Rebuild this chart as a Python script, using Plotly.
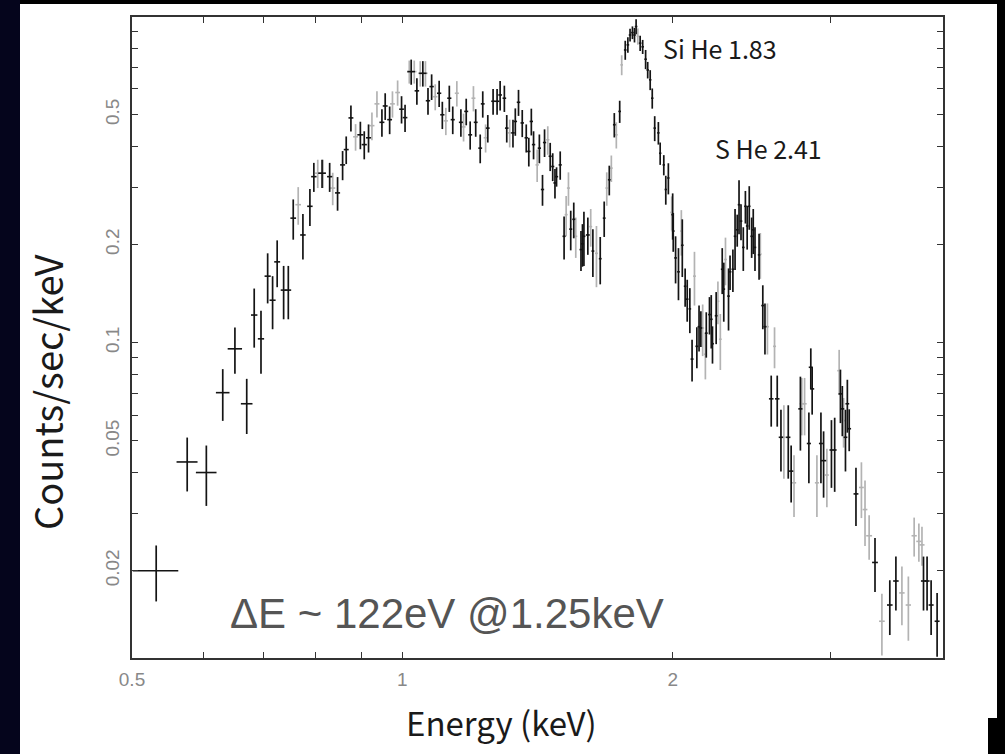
import math
import plotly.graph_objects as go

# ---------------- data ----------------
# black data set: energy (keV), energy half-width, counts/sec/keV, 1-sigma error
bk_energy = [0.532, 0.576, 0.605, 0.631, 0.651, 0.671, 0.684, 0.696, 0.708, 0.717,
             0.7255, 0.7376, 0.7465, 0.756, 0.775, 0.789, 0.797, 0.814, 0.830, 0.847,
             0.858, 0.866, 0.8765, 0.898, 0.907, 0.917, 0.949, 0.957, 0.968, 0.998,
             1.007, 1.023, 1.038, 1.054, 1.068, 1.078, 1.099, 1.108, 1.128, 1.138,
             1.162, 1.178, 1.190, 1.207, 1.221, 1.229, 1.245, 1.262, 1.275, 1.285,
             1.299, 1.307, 1.328, 1.336, 1.347, 1.360, 1.374, 1.383, 1.392, 1.400,
             1.421, 1.4325, 1.440, 1.461, 1.4705, 1.479, 1.485, 1.499, 1.514, 1.540,
             1.552, 1.581, 1.587, 1.593, 1.609, 1.630, 1.661, 1.678, 1.700, 1.722,
             1.746, 1.771, 1.783, 1.793, 1.804, 1.8135, 1.821, 1.840, 1.852, 1.866,
             1.876, 1.888, 1.898, 1.910, 1.928, 1.937, 1.955, 1.965, 1.978, 2.000,
             2.003, 2.015, 2.030, 2.050, 2.065, 2.076, 2.090, 2.102, 2.128, 2.140,
             2.150, 2.180, 2.198, 2.208, 2.215, 2.236, 2.271, 2.280, 2.308, 2.317,
             2.334, 2.347, 2.360, 2.371, 2.383, 2.397, 2.410, 2.421, 2.434, 2.449,
             2.459, 2.470, 2.496, 2.520, 2.534, 2.575, 2.615, 2.640, 2.690, 2.710,
             2.775, 2.836, 2.850, 2.860, 2.925, 2.945, 3.005, 3.030, 3.075, 3.090,
             3.115, 3.130, 3.145, 3.200, 3.360, 3.490, 3.545, 3.805, 3.840, 3.880,
             3.940]
bk_ewidth = [0.031, 0.0155, 0.016, 0.011, 0.012, 0.010, 0.0056, 0.0056, 0.0056, 0.0056,
             0.0055, 0.0055, 0.0055, 0.0055, 0.0055, 0.0055, 0.0055, 0.008, 0.0055, 0.0055,
             0.0055, 0.0055, 0.0055, 0.007, 0.006, 0.006, 0.006, 0.006, 0.006, 0.006,
             0.006, 0.010, 0.006, 0.010, 0.006, 0.006, 0.006, 0.006, 0.006, 0.006,
             0.006, 0.006, 0.006, 0.006, 0.006, 0.006, 0.006, 0.006, 0.008, 0.006,
             0.006, 0.006, 0.006, 0.006, 0.006, 0.006, 0.006, 0.006, 0.006, 0.006,
             0.006, 0.006, 0.006, 0.006, 0.006, 0.006, 0.006, 0.006, 0.006, 0.006,
             0.006, 0.006, 0.006, 0.006, 0.008, 0.006, 0.006, 0.006, 0.006, 0.006,
             0.006, 0.006, 0.006, 0.006, 0.006, 0.006, 0.006, 0.006, 0.006, 0.006,
             0.006, 0.006, 0.006, 0.006, 0.006, 0.006, 0.006, 0.006, 0.006, 0.007,
             0.007, 0.007, 0.007, 0.007, 0.007, 0.007, 0.007, 0.008, 0.008, 0.008,
             0.008, 0.008, 0.008, 0.008, 0.008, 0.008, 0.008, 0.008, 0.008, 0.008,
             0.008, 0.008, 0.008, 0.008, 0.008, 0.008, 0.008, 0.008, 0.008, 0.008,
             0.008, 0.008, 0.008, 0.010, 0.010, 0.015, 0.015, 0.015, 0.015, 0.015,
             0.015, 0.015, 0.015, 0.015, 0.015, 0.020, 0.015, 0.015, 0.015, 0.015,
             0.015, 0.015, 0.015, 0.020, 0.025, 0.025, 0.025, 0.025, 0.025, 0.025,
             0.025]
bk_counts = [0.0200, 0.0431, 0.0400, 0.0703, 0.0958, 0.0650, 0.1216, 0.1028, 0.160, 0.135,
             0.177, 0.145, 0.145, 0.241, 0.214, 0.262, 0.323, 0.331, 0.323, 0.288,
             0.351, 0.391, 0.489, 0.434, 0.405, 0.425, 0.474, 0.532, 0.483, 0.520,
             0.490, 0.678, 0.592, 0.670, 0.552, 0.610, 0.582, 0.500, 0.562, 0.483,
             0.474, 0.512, 0.434, 0.474, 0.395, 0.540, 0.455, 0.550, 0.550, 0.575,
             0.562, 0.455, 0.440, 0.477, 0.546, 0.472, 0.425, 0.386, 0.477, 0.405,
             0.395, 0.295, 0.411, 0.373, 0.347, 0.309, 0.323, 0.351, 0.212, 0.223,
             0.239, 0.193, 0.201, 0.212, 0.214, 0.191, 0.181, 0.241, 0.316, 0.466,
             0.512, 0.790, 0.819, 0.878, 0.893, 0.878, 0.932, 0.829, 0.808, 0.740,
             0.686, 0.640, 0.562, 0.455, 0.440, 0.381, 0.351, 0.295, 0.320, 0.247,
             0.220, 0.182, 0.165, 0.199, 0.149, 0.136, 0.127, 0.0891, 0.0975, 0.112,
             0.111, 0.107, 0.122, 0.118, 0.0993, 0.121, 0.168, 0.146, 0.139, 0.165,
             0.168, 0.212, 0.222, 0.265, 0.236, 0.196, 0.262, 0.228, 0.262, 0.212,
             0.222, 0.196, 0.186, 0.130, 0.112, 0.0673, 0.0673, 0.0513, 0.0513, 0.0404,
             0.0627, 0.0491, 0.0841, 0.0722, 0.0491, 0.0435, 0.0469, 0.0469, 0.0697, 0.0627,
             0.0513, 0.0650, 0.0545, 0.0344, 0.0212, 0.0157, 0.0186, 0.0186, 0.0186, 0.0157,
             0.0140]
bk_error = [0.0039, 0.0081, 0.0084, 0.0127, 0.0155, 0.0125, 0.025, 0.0225, 0.028, 0.025,
            0.029, 0.027, 0.027, 0.034, 0.034, 0.034, 0.033, 0.033, 0.033, 0.034,
            0.036, 0.038, 0.045, 0.042, 0.040, 0.042, 0.046, 0.050, 0.047, 0.050,
            0.047, 0.060, 0.055, 0.060, 0.052, 0.055, 0.054, 0.048, 0.052, 0.047,
            0.046, 0.048, 0.043, 0.046, 0.040, 0.050, 0.044, 0.050, 0.050, 0.060,
            0.052, 0.044, 0.043, 0.046, 0.050, 0.045, 0.042, 0.039, 0.045, 0.040,
            0.040, 0.032, 0.040, 0.037, 0.034, 0.032, 0.022, 0.035, 0.032, 0.031,
            0.030, 0.027, 0.030, 0.040, 0.028, 0.032, 0.030, 0.030, 0.033, 0.040,
            0.040, 0.053, 0.045, 0.040, 0.040, 0.045, 0.050, 0.045, 0.040, 0.050,
            0.040, 0.045, 0.040, 0.040, 0.035, 0.030, 0.025, 0.030, 0.035, 0.040,
            0.030, 0.030, 0.030, 0.040, 0.020, 0.020, 0.020, 0.013, 0.014, 0.018,
            0.014, 0.017, 0.016, 0.022, 0.013, 0.022, 0.027, 0.030, 0.030, 0.020,
            0.025, 0.045, 0.025, 0.050, 0.030, 0.030, 0.030, 0.035, 0.040, 0.030,
            0.035, 0.030, 0.030, 0.020, 0.020, 0.012, 0.012, 0.011, 0.013, 0.008,
            0.016, 0.012, 0.012, 0.012, 0.012, 0.010, 0.011, 0.012, 0.013, 0.011,
            0.011, 0.012, 0.008, 0.007, 0.004, 0.003, 0.0035, 0.0035, 0.0035, 0.003,
            0.0031]

# grey data set
gr_energy = [0.7657, 0.805, 0.816, 0.8365, 0.887, 0.925, 0.937, 0.975, 0.988, 1.018,
             1.031, 1.047, 1.061, 1.088, 1.118, 1.150, 1.170, 1.200, 1.238, 1.317,
             1.413, 1.452, 1.522, 1.531, 1.560, 1.621, 1.645, 1.689, 1.709, 1.731,
             1.755, 1.829, 1.995, 2.045, 2.115, 2.160, 2.175, 2.246, 2.260, 2.290,
             2.504, 2.550, 2.597, 2.660, 2.730, 2.785, 2.805, 2.895, 2.970, 3.065,
             3.100, 3.245, 3.275, 3.310, 3.420, 3.600, 3.660, 3.715, 3.760, 3.790]
gr_ewidth = [0.0055, 0.0055, 0.0055, 0.0055, 0.0055, 0.006, 0.006, 0.006, 0.006, 0.006,
             0.006, 0.006, 0.006, 0.006, 0.006, 0.006, 0.006, 0.006, 0.006, 0.006,
             0.006, 0.006, 0.006, 0.006, 0.006, 0.006, 0.006, 0.006, 0.006, 0.006,
             0.006, 0.006, 0.007, 0.007, 0.008, 0.008, 0.008, 0.008, 0.008, 0.008,
             0.008, 0.010, 0.010, 0.015, 0.015, 0.015, 0.015, 0.015, 0.015, 0.015,
             0.015, 0.020, 0.020, 0.025, 0.025, 0.025, 0.025, 0.025, 0.025, 0.025]
gr_counts = [0.265, 0.331, 0.331, 0.298, 0.428, 0.463, 0.540, 0.540, 0.585, 0.678,
             0.678, 0.670, 0.670, 0.568, 0.479, 0.582, 0.459, 0.562, 0.425, 0.440,
             0.351, 0.419, 0.247, 0.298, 0.212, 0.227, 0.188, 0.298, 0.343, 0.434,
             0.711, 0.870, 0.251, 0.220, 0.160, 0.111, 0.0922, 0.134, 0.1025, 0.180,
             0.187, 0.112, 0.0975, 0.0513, 0.0372, 0.0650, 0.0650, 0.0372, 0.0393, 0.0821,
             0.0577, 0.0360, 0.0308, 0.0256, 0.0140, 0.0171, 0.0157, 0.0256, 0.0246, 0.0240]
gr_error = [0.035, 0.033, 0.033, 0.034, 0.040, 0.045, 0.050, 0.050, 0.052, 0.055,
            0.055, 0.060, 0.060, 0.052, 0.046, 0.052, 0.045, 0.050, 0.042, 0.043,
            0.040, 0.042, 0.035, 0.035, 0.030, 0.030, 0.040, 0.035, 0.032, 0.040,
            0.050, 0.050, 0.030, 0.035, 0.030, 0.020, 0.015, 0.020, 0.020, 0.030,
            0.030, 0.020, 0.014, 0.013, 0.008, 0.013, 0.013, 0.008, 0.008, 0.013,
            0.010, 0.007, 0.007, 0.004, 0.003, 0.0035, 0.0035, 0.0035, 0.0033, 0.0033]

x_tick_vals = [0.5, 0.6, 0.7, 0.8, 0.9, 1, 2, 3]
x_tick_text = ["0.5", "", "", "", "", "1", "2", ""]
y_tick_vals = [0.02, 0.03, 0.04, 0.05, 0.06, 0.07, 0.08, 0.09,
               0.1, 0.2, 0.3, 0.4, 0.5, 0.6, 0.7, 0.8, 0.9]
y_tick_text = ["0.02", "", "", "0.05", "", "", "", "",
               "0.1", "0.2", "", "", "0.5", "", "", "", ""]

x_range = [0.5, 4.0]
y_range = [0.0108, 0.997]

# ---------------- figure ----------------
fig = go.Figure()


def spectrum_trace(xv, xw, yv, ye, color, name):
    return go.Scatter(
        x=xv, y=yv, mode="markers", name=name,
        marker=dict(size=1, color=color),
        error_x=dict(type="data", array=xw, symmetric=True, color=color,
                     thickness=1.6, width=0),
        error_y=dict(type="data", array=ye, symmetric=True, color=color,
                     thickness=1.7, width=0),
        hoverinfo="x+y", showlegend=False,
    )


fig.add_trace(spectrum_trace(gr_energy, gr_ewidth, gr_counts, gr_error, "#b3b3b3", "grey"))
fig.add_trace(spectrum_trace(bk_energy, bk_ewidth, bk_counts, bk_error, "#141414", "black"))

# page decoration: white card on black, dark star strip at the left
L, R, T, B = 132, 62, 17, 96
W, H = 1005, 754
pw, ph = W - L - R, H - T - B


def px_x(p):
    return (p - L) / pw


def px_y(p):
    return (H - B - p) / ph


fig.add_shape(type="rect", xref="paper", yref="paper", layer="below",
              x0=px_x(20), x1=px_x(997), y0=px_y(754), y1=px_y(4),
              fillcolor="white", line=dict(width=0))
fig.add_shape(type="rect", xref="paper", yref="paper", layer="below",
              x0=px_x(0), x1=px_x(20), y0=px_y(754), y1=px_y(0),
              fillcolor="#05051c", line=dict(width=0))
fig.add_shape(type="rect", xref="paper", yref="paper", layer="below",
              x0=px_x(988), x1=px_x(1005), y0=px_y(754), y1=px_y(718),
              fillcolor="black", line=dict(width=0))

axis_common = dict(
    type="log", showgrid=False, zeroline=False, showline=True,
    linecolor="#333333", linewidth=1.5, mirror="allticks",
    ticks="inside", ticklen=6, tickwidth=1.3, tickcolor="#333333",
    tickfont=dict(family="Liberation Sans, Arial", size=19, color="#888888"),
)

fig.update_xaxes(range=[math.log10(x_range[0]), math.log10(x_range[1])],
                 tickvals=x_tick_vals, ticktext=x_tick_text,
                 ticklabelstandoff=3, **axis_common)
fig.update_yaxes(range=[math.log10(y_range[0]), math.log10(y_range[1])],
                 tickvals=y_tick_vals, ticktext=y_tick_text, tickangle=-90,
                 ticklabelstandoff=4, **axis_common)

cjk = "Noto Sans CJK SC, Noto Sans, sans-serif"
fig.add_annotation(text="Energy (keV)", xref="paper", yref="paper",
                   x=px_x(501), y=px_y(722), xanchor="center", yanchor="middle",
                   showarrow=False, font=dict(family=cjk, size=33, color="#1a1a1a"))
fig.add_annotation(text="Counts/sec/keV", xref="paper", yref="paper",
                   x=px_x(46), y=px_y(392), xanchor="center", yanchor="middle",
                   textangle=-90, showarrow=False,
                   font=dict(family=cjk, size=38, color="#1a1a1a"))
fig.add_annotation(text="Si He 1.83", x=math.log10(1.94), y=math.log10(0.80),
                   xanchor="left", yanchor="middle", showarrow=False,
                   font=dict(family=cjk, size=25, color="#1a1a1a"))
fig.add_annotation(text="S He 2.41", x=math.log10(2.22), y=math.log10(0.396),
                   xanchor="left", yanchor="middle", showarrow=False,
                   font=dict(family=cjk, size=25, color="#1a1a1a"))
fig.add_annotation(text="ΔE ~ 122eV @1.25keV", x=math.log10(0.64), y=math.log10(0.0148),
                   xanchor="left", yanchor="middle", showarrow=False,
                   font=dict(family="Liberation Sans, Arial", size=42, color="#555555"))

fig.update_layout(
    width=W, height=H,
    margin=dict(l=L, r=R, t=T, b=B),
    paper_bgcolor="black", plot_bgcolor="white",
)

fig.write_html("out.html")
